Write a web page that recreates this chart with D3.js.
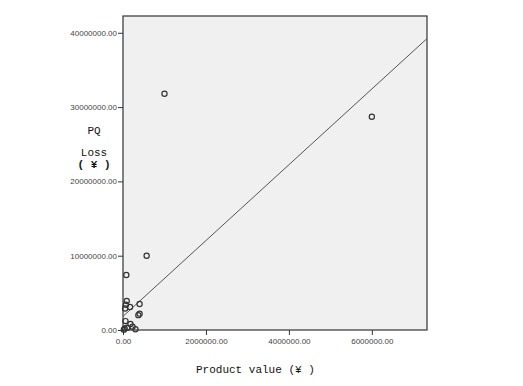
<!DOCTYPE html>
<html>
<head>
<meta charset="utf-8">
<script src="https://cdnjs.cloudflare.com/ajax/libs/d3/7.8.5/d3.min.js"></script>
<style>
  body { margin: 0; background: #fff; }
  svg text { font-family: "Liberation Sans", Arial, sans-serif; }
</style>
</head>
<body>
<script>
// product value (yuan) and PQ loss (yuan) for each case
var productValue = [1000000, 6000000, 570000, 80000, 90000, 70000, 170000, 50000, 400000,
                    370000, 400000, 60000, 180000, 230000, 300000, 40000, 20000, 100000];
var pqLoss = [31800000, 28700000, 10000000, 7400000, 3900000, 3400000, 3100000, 2900000, 3500000,
              2000000, 2200000, 1200000, 800000, 450000, 100000, 200000, 50000, 300000];
var xTicks = [0, 2000000, 4000000, 6000000];
var yTicks = [0, 10000000, 20000000, 30000000, 40000000];
// fitted line y = a + b*x
var fitIntercept = 1840000, fitSlope = 5.1;

var W = 523, H = 386;
var m = { left: 123, top: 16, right: 96, bottom: 56 };

var svg = d3.select("body").append("svg")
    .attr("width", W)
    .attr("height", H);

var x = d3.scaleLinear().domain([0, 7330000]).range([m.left, W - m.right]);
var y = d3.scaleLinear().domain([0, 42260000]).range([H - m.bottom, m.top]);

svg.append("rect")
    .attr("x", m.left).attr("y", m.top)
    .attr("width", W - m.right - m.left)
    .attr("height", H - m.bottom - m.top)
    .style("fill", "#f0f0f0")
    .style("stroke", "#333")
    .style("stroke-width", 1.2);

var xAxis = svg.append("g")
    .attr("transform", "translate(0," + (H - m.bottom) + ")")
    .call(d3.axisBottom(x).tickValues(xTicks).tickSize(5).tickPadding(3)
        .tickFormat(function(d){ return d.toFixed(2); }));
var yAxis = svg.append("g")
    .attr("transform", "translate(" + m.left + ",0)")
    .call(d3.axisLeft(y).tickValues(yTicks).tickSize(5).tickPadding(1)
        .tickFormat(function(d){ return d.toFixed(2); }));

[xAxis, yAxis].forEach(function(a){
    a.select(".domain").remove();
    a.selectAll("line").style("stroke", "#333");
    a.selectAll("text").style("font-size", "8px").style("fill", "#444");
});

svg.append("line")
    .attr("x1", x(0)).attr("y1", y(fitIntercept))
    .attr("x2", x(7330000)).attr("y2", y(fitIntercept + fitSlope * 7330000))
    .style("stroke", "#555")
    .style("stroke-width", 1);

svg.append("g").selectAll("circle")
    .data(productValue)
    .enter()
    .append("circle")
    .attr("cx", function(d){ return x(d); })
    .attr("cy", function(d, i){ return y(pqLoss[i]); })
    .attr("r", 2.6)
    .style("fill", "none")
    .style("stroke", "#333")
    .style("stroke-width", 1.2);

svg.append("text")
    .attr("x", 196).attr("y", 373)
    .attr("xml:space", "preserve")
    .style("white-space", "pre")
    .style("font-family", "'Liberation Mono', monospace")
    .style("font-size", "11px")
    .style("fill", "#111")
    .text("Product value (¥ )");

var yLab = ["PQ", "Loss", "( ¥ )"];
var yLabY = [134, 156, 168];
svg.append("g").selectAll("text")
    .data(yLab)
    .enter()
    .append("text")
    .attr("x", 94)
    .attr("y", function(d, i){ return yLabY[i]; })
    .attr("text-anchor", "middle")
    .style("white-space", "pre")
    .style("font-family", "'Liberation Mono', monospace")
    .style("font-size", "11px")
    .style("font-weight", function(d, i){ return i == 2 ? "bold" : "normal"; })
    .style("fill", "#111")
    .text(function(d){ return d; });
</script>
</body>
</html>
